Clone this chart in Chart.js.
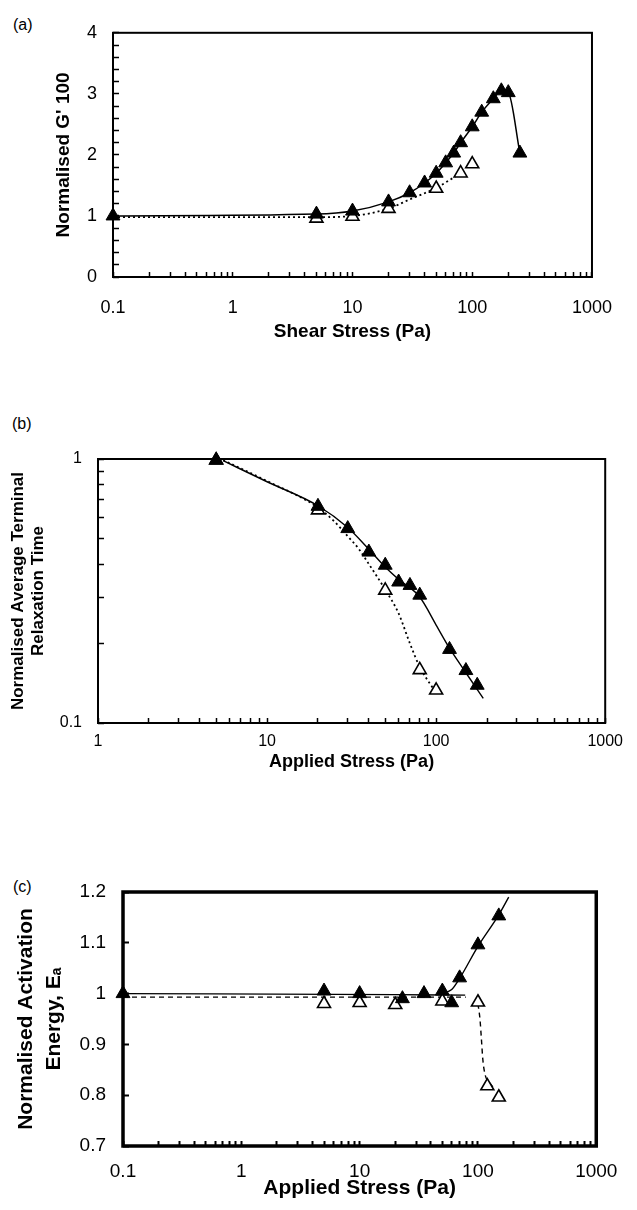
<!DOCTYPE html>
<html><head><meta charset="utf-8">
<script src="https://cdn.jsdelivr.net/npm/chart.js@4.4.1/dist/chart.umd.min.js"></script>
<style>
body{margin:0;background:#fff;width:637px;height:1210px;position:relative;overflow:hidden;font-family:"Liberation Sans",Arial,sans-serif}
canvas{position:absolute;left:0}
.lbl{position:absolute;font-size:16px;line-height:16px;color:#000;white-space:nowrap}
</style></head><body>
<div class="lbl" style="left:13px;top:17px">(a)</div>
<div class="lbl" style="left:12px;top:416px">(b)</div>
<div class="lbl" style="left:13px;top:879px">(c)</div>
<canvas id="ca" width="637" height="360" style="top:0"></canvas>
<canvas id="cb" width="637" height="390" style="top:390px"></canvas>
<canvas id="cc" width="637" height="370" style="top:840px"></canvas>
<script>
// ---------- Panel (a): Normalised G' 100 vs Shear Stress ----------
const aFilledX = [0.1, 5, 10, 20, 30, 40, 50, 60, 70, 80, 100, 120, 150, 175, 200, 250];
const aFilledY = [1.0, 1.03, 1.08, 1.23, 1.38, 1.54, 1.70, 1.87, 2.03, 2.20, 2.46, 2.70, 2.92, 3.05, 3.02, 2.03];
const aOpenX = [5, 10, 20, 50, 80, 100];
const aOpenY = [0.96, 0.99, 1.12, 1.45, 1.70, 1.85];
const aDotX = [0.1, 5, 10, 20, 30, 50, 80];
const aDotY = [0.98, 0.98, 1.0, 1.12, 1.27, 1.46, 1.70];
const aXLabels = [0.1, 1, 10, 100, 1000];
const aYLabels = [0, 1, 2, 3, 4];
const aYMinorStep = 0.2;

// ---------- Panel (b): Normalised Average Terminal Relaxation Time ----------
const bFilledX = [5, 20, 30, 40, 50, 60, 70, 80, 120, 150, 175];
const bFilledY = [0.99, 0.662, 0.545, 0.444, 0.396, 0.342, 0.332, 0.305, 0.19, 0.158, 0.139];
const bOpenX = [5, 20, 50, 80, 100];
const bOpenY = [0.99, 0.64, 0.318, 0.159, 0.133];
const bSolidX = [5.5, 10, 20, 30, 40, 50, 60, 80, 100, 120, 150, 190];
const bSolidY = [0.985, 0.82, 0.665, 0.55, 0.455, 0.39, 0.35, 0.30, 0.235, 0.192, 0.155, 0.124];
const bDotX = [5.5, 10, 20, 25, 30, 35, 40, 50, 60, 70, 80, 100];
const bDotY = [0.99, 0.825, 0.655, 0.58, 0.51, 0.455, 0.40, 0.32, 0.26, 0.20, 0.163, 0.13];
const bXLabels = [1, 10, 100, 1000];
const bYLabels = [0.1, 1];

// ---------- Panel (c): Normalised Activation Energy ----------
const cFilledX = [0.1, 5, 10, 23, 35, 50, 60, 70, 100, 150];
const cFilledY = [1.0, 1.005, 1.0, 0.99, 1.0, 1.005, 0.982, 1.031, 1.096, 1.153];
const cOpenX = [5, 10, 20, 50, 100, 120, 150];
const cOpenY = [0.98, 0.982, 0.978, 0.985, 0.983, 0.818, 0.796];
const cSolid1X = [0.1, 20, 78];
const cSolid1Y = [1.0, 0.998, 0.997];
const cSolid2X = [50, 60, 70, 100, 150, 182];
const cSolid2Y = [1.0, 1.008, 1.03, 1.093, 1.155, 1.19];
const cDash1X = [0.1, 79];
const cDash1Y = [0.993, 0.993];
const cDash2X = [100, 104, 107, 110, 115, 125, 135];
const cDash2Y = [0.98, 0.95, 0.91, 0.87, 0.84, 0.825, 0.815];
const cXLabels = [0.1, 1, 10, 100, 1000];
const cYLabels = [0.7, 0.8, 0.9, 1.0, 1.1, 1.2];

// ---------- helpers ----------
const FONT = "'Liberation Sans', Arial, sans-serif";
Chart.defaults.color = '#000';
Chart.defaults.font.family = FONT;
const zip = (xs, ys) => xs.map((x, i) => ({x: x, y: ys[i]}));
const near = (v, L) => Math.abs(v - L) <= Math.abs(L) * 1e-6 + 1e-9;
function logPositions(min, max) {
  const out = [];
  for (let e = Math.round(Math.log10(min)); e <= Math.round(Math.log10(max)); e++) {
    for (let m = 1; m <= 9; m++) {
      const v = Number((m * Math.pow(10, e)).toPrecision(6));
      if (v >= min * 0.999 && v <= max * 1.001) out.push(v);
    }
  }
  return out;
}
function linPositions(min, max, step) {
  const out = [];
  const n = Math.round((max - min) / step);
  for (let i = 0; i <= n; i++) out.push(Number((min + i * step).toPrecision(6)));
  return out;
}
const frame = {
  id: 'frame',
  beforeDatasetsDraw(chart, args, opts) {
    const {ctx, chartArea: a} = chart;
    ctx.save();
    ctx.lineWidth = opts.width;
    ctx.strokeStyle = '#000';
    ctx.strokeRect(a.left, a.top, a.right - a.left, a.bottom - a.top);
    ctx.restore();
  }
};
function axis(o) {
  return {
    type: o.type, position: o.position, min: o.min, max: o.max,
    afterBuildTicks: s => { s.ticks = o.positions.map(v => ({value: v})); },
    afterFit: s => { if (o.position === 'left') s.width = o.size; else s.height = o.size; },
    border: {display: false},
    grid: {display: true, drawOnChartArea: false, drawTicks: true, tickLength: o.tickLen,
           tickWidth: o.tickWidth, tickColor: '#000'},
    ticks: {autoSkip: false, maxRotation: 0, minRotation: 0, padding: o.tickPad, color: '#000',
            font: {family: FONT, size: o.tickFont},
            callback: v => { const L = o.labels.find(l => near(v, l)); return L === undefined ? '' : String(L); }},
    title: {display: true, text: o.title, color: '#000',
            font: {family: FONT, size: o.titleFont, weight: 'bold', lineHeight: o.titleLH},
            padding: o.titlePad}
  };
}
function pts(data, filled, r) {
  return {data: data, showLine: false, pointStyle: 'triangle', pointRadius: r, pointHoverRadius: r,
          pointBackgroundColor: filled ? '#000' : '#fff', pointBorderColor: '#000',
          pointBorderWidth: filled ? 1 : 1.6, clip: false};
}
function line(data, dash, w) {
  return {data: data, showLine: true, pointRadius: 0, pointHoverRadius: 0, borderColor: '#000',
          borderWidth: w, borderDash: dash, fill: false, cubicInterpolationMode: 'monotone'};
}
function make(id, pad, frameW, xAx, yAx, datasets) {
  return new Chart(document.getElementById(id), {
    type: 'scatter',
    data: {datasets: datasets},
    options: {
      responsive: false, animation: false, devicePixelRatio: 1,
      layout: {padding: pad},
      plugins: {legend: {display: false}, tooltip: {enabled: false}, frame: {width: frameW}},
      scales: {x: xAx, y: yAx}
    },
    plugins: [frame]
  });
}

// ---------- (a) ----------
make('ca', {left: 0, top: 23, right: 24, bottom: 0}, 2,
  axis({type: 'logarithmic', position: 'bottom', min: 0.1, max: 1000, positions: logPositions(0.1, 1000),
        labels: aXLabels, size: 83, tickLen: -5, tickWidth: 1.5, tickPad: 25, tickFont: 18,
        title: 'Shear Stress (Pa)', titleFont: 19, titleLH: 1.2, titlePad: {top: 0, bottom: 16.6}}),
  axis({type: 'linear', position: 'left', min: 0, max: 4, positions: linPositions(0, 4, aYMinorStep),
        labels: aYLabels, size: 113, tickLen: -6, tickWidth: 1.5, tickPad: 22, tickFont: 18,
        title: "Normalised G' 100", titleFont: 19, titleLH: 1.2, titlePad: {top: 52, bottom: 0}}),
  [pts(zip(aFilledX, aFilledY), true, 8), pts(zip(aOpenX, aOpenY), false, 7.5),
   line(zip(aFilledX, aFilledY), [], 1.5), line(zip(aDotX, aDotY), [2, 3], 1.8)]);

// ---------- (b) ----------
make('cb', {left: 0, top: 69, right: 27, bottom: 0}, 2,
  axis({type: 'logarithmic', position: 'bottom', min: 1, max: 1000, positions: logPositions(1, 1000),
        labels: bXLabels, size: 57, tickLen: -5, tickWidth: 1.5, tickPad: 14, tickFont: 16,
        title: 'Applied Stress (Pa)', titleFont: 18, titleLH: 1.2, titlePad: {top: 0, bottom: 7.5}}),
  axis({type: 'logarithmic', position: 'left', min: 0.1, max: 1, positions: logPositions(0.1, 1),
        labels: bYLabels, size: 98, tickLen: -6, tickWidth: 1.5, tickPad: 22, tickFont: 16,
        title: ['Normalised Average Terminal', 'Relaxation Time'], titleFont: 17, titleLH: '20px',
        titlePad: {top: 8, bottom: 0}}),
  [pts(zip(bFilledX, bFilledY), true, 8), pts(zip(bOpenX, bOpenY), false, 7.5),
   line(zip(bSolidX, bSolidY), [], 1.4), line(zip(bDotX, bDotY), [2, 3], 1.8)]);

// ---------- (c) ----------
make('cc', {left: 0, top: 52, right: 29, bottom: 0}, 3.5,
  axis({type: 'logarithmic', position: 'bottom', min: 0.1, max: 1000, positions: logPositions(0.1, 1000),
        labels: cXLabels, size: 64, tickLen: -5, tickWidth: 2, tickPad: 19.6, tickFont: 19,
        title: 'Applied Stress (Pa)', titleFont: 21, titleLH: 1.2, titlePad: {top: 0, bottom: 9.4}}),
  axis({type: 'linear', position: 'left', min: 0.7, max: 1.2, positions: cYLabels,
        labels: cYLabels, size: 123, tickLen: -6, tickWidth: 2, tickPad: 23, tickFont: 19,
        title: ['Normalised Activation', 'Energy, E\u2090'], titleFont: 21, titleLH: '28px',
        titlePad: {top: 12, bottom: 0}}),
  [pts(zip(cFilledX, cFilledY), true, 8), pts(zip(cOpenX, cOpenY), false, 7.5),
   line(zip(cSolid1X, cSolid1Y), [], 1.4), line(zip(cSolid2X, cSolid2Y), [], 1.4),
   line(zip(cDash1X, cDash1Y), [5, 4], 1.4), line(zip(cDash2X, cDash2Y), [5, 4], 1.4)]);
</script>
</body></html>
